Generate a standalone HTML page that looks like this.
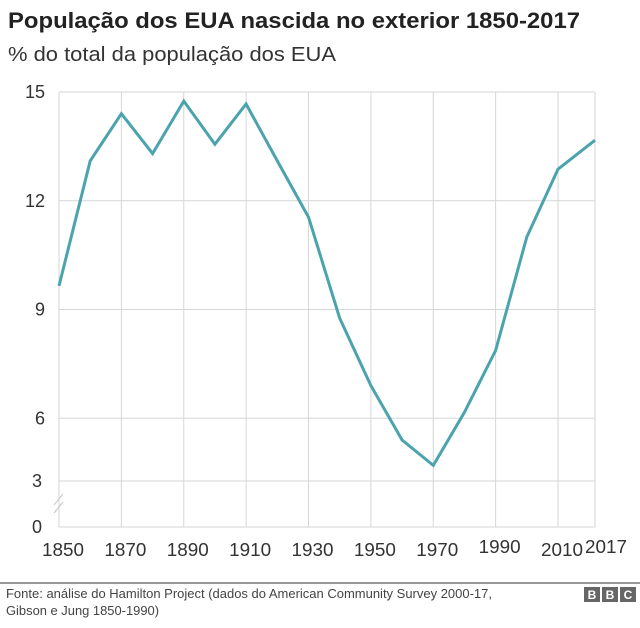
<!DOCTYPE html>
<html><head><meta charset="utf-8"><style>
body{margin:0;background:#fff;font-family:"Liberation Sans",sans-serif;}
svg text{font-family:"Liberation Sans",sans-serif;}
</style></head><body>
<svg width="640" height="623" viewBox="0 0 640 623">
<text x="8" y="28" font-size="22" font-weight="bold" fill="#222" textLength="572" lengthAdjust="spacingAndGlyphs">População dos EUA nascida no exterior 1850-2017</text>
<text x="8" y="61" font-size="20" fill="#333" textLength="328" lengthAdjust="spacingAndGlyphs">% do total da população dos EUA</text>
<g id="grid"></g>
<g id="axes"></g>
<path id="line" fill="none" stroke="#4ba3ad" stroke-width="3" stroke-linejoin="miter"/>
<line x1="0" y1="583" x2="640" y2="583" stroke="#777" stroke-width="1.5"/>
<text x="6" y="598" font-size="12.5" fill="#444" textLength="486" lengthAdjust="spacingAndGlyphs">Fonte: análise do Hamilton Project (dados do American Community Survey 2000-17,</text>
<text x="6" y="615" font-size="12.5" fill="#444" textLength="153" lengthAdjust="spacingAndGlyphs">Gibson e Jung 1850-1990)</text>
<g>
<rect x="584" y="587" width="16" height="15" fill="#666"/><rect x="602" y="587" width="16" height="15" fill="#666"/><rect x="620" y="587" width="16" height="15" fill="#666"/>
<text x="592" y="599" font-size="12" font-weight="bold" fill="#fff" text-anchor="middle">B</text>
<text x="610" y="599" font-size="12" font-weight="bold" fill="#fff" text-anchor="middle">B</text>
<text x="628" y="599" font-size="12" font-weight="bold" fill="#fff" text-anchor="middle">C</text>
</g>
</svg>
<script>
const years=[1850,1860,1870,1880,1890,1900,1910,1920,1930,1940,1950,1960,1970,1980,1990,2000,2010,2017];
const values=[9.65,13.1,14.4,13.3,14.75,13.56,14.67,13.1,11.55,8.76,6.9,5.4,4.7,6.16,7.87,11.0,12.87,13.67];
const xTicks=[1850,1870,1890,1910,1930,1950,1970,1990,2010,2017];
const yTicks=[15,12,9,6];
const NS="http://www.w3.org/2000/svg";
function x(yr){return yr<=2010?59+(yr-1850)*(558-59)/160:558+(yr-2010)*(595-558)/7;}
function y(v){return 92+(15-v)*36.25;}
const grid=document.getElementById('grid'),axes=document.getElementById('axes');
function mk(tag,attrs,parent){const e=document.createElementNS(NS,tag);for(const k in attrs)e.setAttribute(k,attrs[k]);parent.appendChild(e);return e;}
xTicks.forEach(t=>{
  const l=mk('line',{x1:x(t),x2:x(t),y1:92,y2:527,stroke:'#d6d6d6','stroke-width':1},grid);
  
  
  const tx=mk('text',{x:x(t)+(t==2017?11:4),y:t==1990||t==2017?553:556,'font-size':18,fill:'#333','text-anchor':'middle',textLength:42,lengthAdjust:'spacingAndGlyphs'},axes);
  tx.textContent=t;
  
  
});
yTicks.forEach(t=>{
  const l=mk('line',{x1:59,x2:595,y1:y(t),y2:y(t),stroke:'#d6d6d6','stroke-width':1},grid);
  
  
  const tx=mk('text',{x:45,y:y(t)+6,'font-size':18,fill:'#333','text-anchor':'end'},axes);
  tx.textContent=t;
  
  
});
[[481,'3'],[527,'0']].forEach(([py,lab])=>{
  const l=mk('line',{x1:59,x2:595,y1:py,y2:py,stroke:'#d6d6d6','stroke-width':1},grid);
  
  
  const tx=mk('text',{x:42,y:py+6,'font-size':18,fill:'#333','text-anchor':'end'},axes);
  tx.textContent=lab;
  
  
});
const br=mk('path',{d:'M54 505 L63 494 M54 513 L63 502',stroke:'#ccc','stroke-width':1.2,fill:'none'},axes);


document.getElementById('line').setAttribute('d',years.map((yr,i)=>(i?'L':'M')+x(yr).toFixed(1)+' '+y(values[i]).toFixed(1)).join(' '));
</script>
</body></html>
